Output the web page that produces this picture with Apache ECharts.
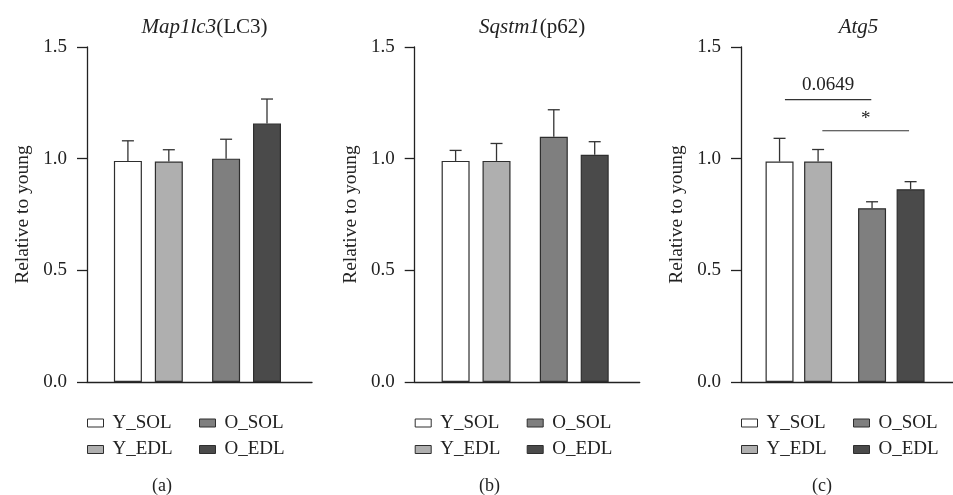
<!DOCTYPE html>
<html>
<head>
<meta charset="utf-8">
<script src="https://cdn.jsdelivr.net/npm/echarts@6/dist/echarts.min.js"></script>
<style>
  html, body { margin: 0; padding: 0; background: #fff; }
  #main { width: 953px; height: 495px; }
</style>
</head>
<body>
<div id="main"></div>
<script>
// groups on the x axis: young pair, gap, old pair
const groupNames = ['Y_SOL', 'Y_EDL', 'O_SOL', 'O_EDL'];
const groupPos = [1, 2, 3.4, 4.4];
const fills = ['#ffffff', '#afafaf', '#7f7f7f', '#4a4a4a'];

// panel (a) Map1lc3 (LC3)
const meanA = [0.99, 0.987, 1.0, 1.157];
const errA = [0.09, 0.053, 0.087, 0.11];
// panel (b) Sqstm1 (p62)
const meanB = [0.99, 0.99, 1.098, 1.017];
const errB = [0.047, 0.078, 0.121, 0.059];
// panel (c) Atg5
const meanC = [0.987, 0.987, 0.778, 0.863];
const errC = [0.104, 0.054, 0.029, 0.034];

// significance bars on (c): [from, to, height, label]
const sigC = [
  [1.14, 3.38, 1.264, '0.0649'],
  [2.11, 4.36, 1.125, '*']
];

const titles = [
  ['Map1lc3', '(LC3)'],
  ['Sqstm1', '(p62)'],
  ['Atg5', '']
];
const panelTags = ['(a)', '(b)', '(c)'];

const FONT = "'Liberation Serif', 'DejaVu Serif', serif";
const INK = '#222';
const gridLeft = [87, 414.7, 741];
const tagX = [162, 489, 822];

const chart = echarts.init(document.getElementById('main'));

const grids = [], xAxes = [], yAxes = [], series = [], legends = [], graphics = [];
const panels = [[meanA, errA], [meanB, errB], [meanC, errC]];

panels.forEach(function (p, gi) {
  grids.push({ left: gridLeft[gi], top: 47, width: 225, height: 335 });
  xAxes.push({
    gridIndex: gi, type: 'value', min: 0, max: 5.5,
    axisLine: { show: true, onZero: false, lineStyle: { color: INK, width: 1.3 } },
    axisTick: { show: false }, axisLabel: { show: false }, splitLine: { show: false }
  });
  yAxes.push({
    gridIndex: gi, type: 'value', min: 0, max: 1.5, interval: 0.5,
    name: 'Relative to young', nameLocation: 'middle', nameGap: 54,
    nameTextStyle: { fontFamily: FONT, fontSize: 19.5, color: INK },
    axisLine: { show: true, lineStyle: { color: INK, width: 1.3 } },
    axisTick: { show: true, length: 10, lineStyle: { color: INK, width: 1.3 } },
    axisLabel: { margin: 20, fontFamily: FONT, fontSize: 19, color: INK,
      formatter: function (v) { return v.toFixed(1); } },
    splitLine: { show: false }
  });

  const mean = p[0], err = p[1];
  groupNames.forEach(function (name, k) {
    series.push({
      name: name, type: 'bar', xAxisIndex: gi, yAxisIndex: gi,
      barWidth: 28, barGap: '-100%',
      data: [[groupPos[k], mean[k]]],
      itemStyle: { color: fills[k], borderColor: '#2e2e2e', borderWidth: 1.2 },
      emphasis: { disabled: true }
    });
  });

  // error bars (upper whisker only)
  series.push({
    type: 'custom', xAxisIndex: gi, yAxisIndex: gi, z: 5,
    data: groupPos.map(function (x, k) { return [x, mean[k], err[k]]; }),
    encode: { x: 0, y: 1 },
    renderItem: function (params, api) {
      const x = api.value(0), m = api.value(1), e = api.value(2);
      const a = api.coord([x, m]);
      const b = api.coord([x, m + e]);
      const st = { stroke: '#333', lineWidth: 1.3 };
      return { type: 'group', children: [
        { type: 'line', shape: { x1: a[0], y1: a[1], x2: b[0], y2: b[1] }, style: st },
        { type: 'line', shape: { x1: b[0] - 6, y1: b[1], x2: b[0] + 6, y2: b[1] }, style: st }
      ] };
    }
  });

  const legendBase = {
    orient: 'vertical', top: 413, itemGap: 6.5, padding: 0,
    itemWidth: 16, itemHeight: 8, icon: 'rect', selectedMode: false,
    itemStyle: { borderColor: '#2e2e2e', borderWidth: 1 },
    textStyle: { fontFamily: FONT, fontSize: 19, color: INK, lineHeight: 20, padding: [0, 0, 0, 4] }
  };
  legends.push(Object.assign({}, legendBase, { left: gridLeft[gi], data: ['Y_SOL', 'Y_EDL'] }));
  legends.push(Object.assign({}, legendBase, { left: gridLeft[gi] + 112, data: ['O_SOL', 'O_EDL'] }));

  graphics.push({
    type: 'text', left: tagX[gi] - 10, top: 477,
    style: { text: panelTags[gi], font: '18px ' + FONT, fill: INK }
  });
});

// significance brackets on panel (c)
series.push({
  type: 'custom', xAxisIndex: 2, yAxisIndex: 2, z: 6,
  data: sigC,
  encode: { x: 0, y: 2 },
  renderItem: function (params, api) {
    const a = api.coord([api.value(0), api.value(2)]);
    const b = api.coord([api.value(1), api.value(2)]);
    const label = sigC[params.dataIndex][3];
    return { type: 'group', children: [
      { type: 'line', shape: { x1: a[0], y1: a[1], x2: b[0], y2: b[1] },
        style: { stroke: '#333', lineWidth: 1.2 } },
      { type: 'text', x: (a[0] + b[0]) / 2, y: a[1] - (label === '*' ? 2 : 5),
        style: { text: label, font: '19px ' + FONT, fill: INK, align: 'center', verticalAlign: 'bottom' } }
    ] };
  }
});

const titleOpts = titles.map(function (t, gi) {
  return {
    text: '{i|' + t[0] + '}{n|' + t[1] + '}',
    left: gridLeft[gi] + 112.5, top: 12, textAlign: 'center',
    textStyle: {
      rich: {
        i: { fontFamily: FONT, fontStyle: 'italic', fontWeight: 'normal', fontSize: 21, color: INK },
        n: { fontFamily: FONT, fontWeight: 'normal', fontSize: 21, color: INK }
      }
    }
  };
});

chart.setOption({
  backgroundColor: '#ffffff',
  animation: false,
  title: titleOpts,
  grid: grids,
  xAxis: xAxes,
  yAxis: yAxes,
  legend: legends,
  series: series,
  graphic: graphics
});
</script>
</body>
</html>
